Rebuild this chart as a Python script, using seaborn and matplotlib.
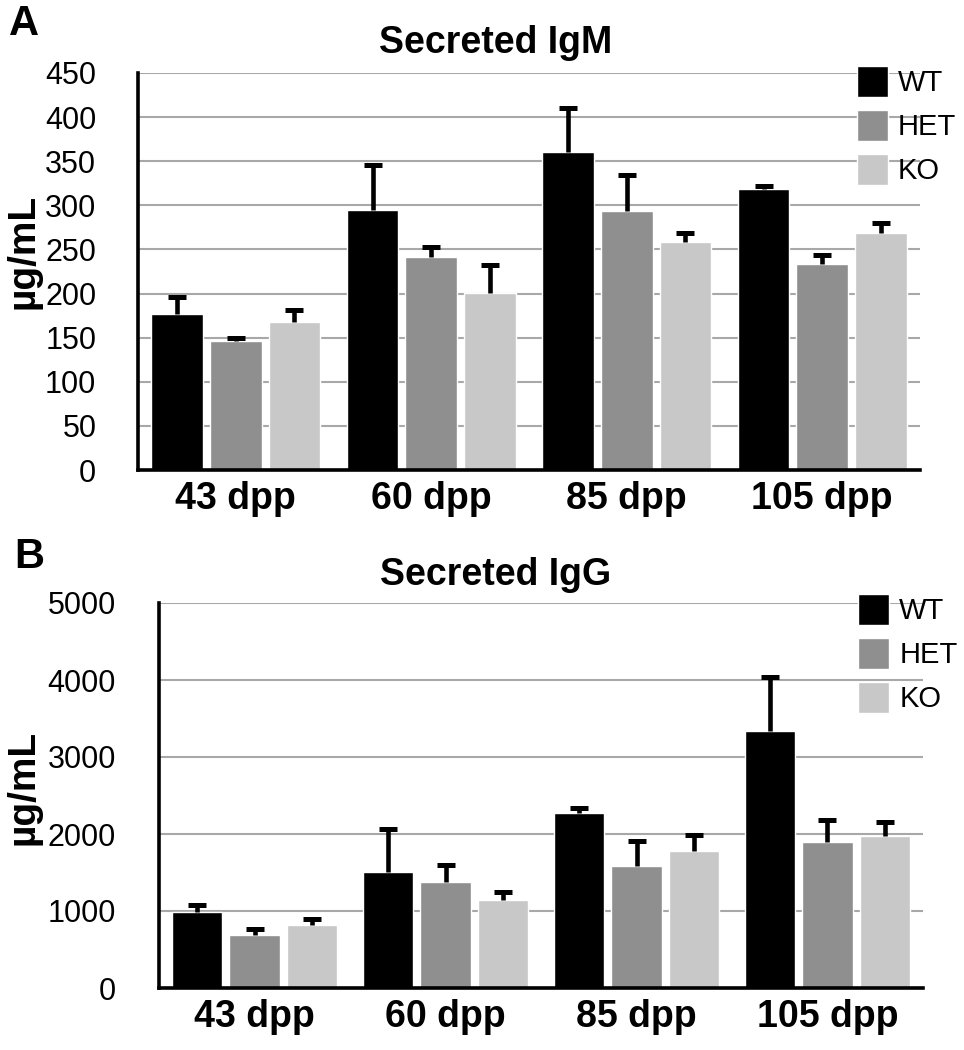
import pandas as pd
import matplotlib
matplotlib.use("Agg")
import matplotlib.pyplot as plt
import seaborn as sns

# Данные
ages = ["43 dpp", "60 dpp", "85 dpp", "105 dpp"]
groups = ["WT", "HET", "KO"]

igm_wt = [177, 295, 360, 319]
igm_het = [146, 241, 294, 233]
igm_ko = [168, 201, 258, 269]
igm_err_wt = [19, 51, 50, 3]
igm_err_het = [4, 12, 40, 11]
igm_err_ko = [13, 31, 11, 11]

igg_wt = [985, 1512, 2268, 3336]
igg_het = [691, 1382, 1590, 1897]
igg_ko = [820, 1145, 1784, 1979]
igg_err_wt = [95, 553, 70, 709]
igg_err_het = [70, 216, 315, 285]
igg_err_ko = [78, 108, 204, 173]

palette_groups = {"WT": "#000000", "HET": "#8f8f8f", "KO": "#c8c8c8"}

sns.set_theme(style="white", rc={"text.color": "black", "xtick.color": "black",
                                 "ytick.color": "black", "axes.labelcolor": "black"})
plt.rcParams['font.family'] = ['Liberation Sans', 'DejaVu Sans']


def make_df(wt, het, ko):
    rows = []
    for g, vals in zip(groups, [wt, het, ko]):
        for a, v in zip(ages, vals):
            rows.append({"Age": a, "Group": g, "Value": v})
    return pd.DataFrame(rows)


def draw_panel(ax, df, errs, ymax, ystep, tickpad, legend_xy):
    sns.barplot(data=df, x="Age", y="Value", hue="Group", palette=palette_groups,
                order=ages, hue_order=groups, width=0.9, gap=0.12,
                errorbar=None, saturation=1, ax=ax)
    # односторонние планки погрешностей (только вверх)
    for cont, err in zip(ax.containers, errs):
        xs = [b.get_x() + b.get_width() / 2 for b in cont]
        ys = [b.get_height() for b in cont]
        _, caps, _ = ax.errorbar(xs, ys, yerr=[[0] * len(err), err], fmt="none",
                                 ecolor="black", elinewidth=3.3, capsize=6.2,
                                 capthick=3.6, zorder=1)
        for c in caps:
            if list(c.get_ydata()) == ys:
                c.set_visible(False)
    ax.set_xlim(-0.5, 3.5)
    ax.set_ylim(0, ymax)
    ax.set_yticks(range(0, ymax + 1, ystep))
    ax.yaxis.grid(True, color="#a8a8a8", linewidth=1.5)
    ax.set_axisbelow(True)
    for s in ["top", "right"]:
        ax.spines[s].set_visible(False)
    for s in ["left", "bottom"]:
        ax.spines[s].set_linewidth(2.6)
        ax.spines[s].set_color("black")
        ax.spines[s].set_zorder(5)
    ax.tick_params(axis="y", length=0, pad=tickpad, labelsize=22, labelcolor="black")
    ax.tick_params(axis="x", length=0, pad=8, labelsize=27, labelcolor="black")
    for lab in ax.get_xticklabels():
        lab.set_fontweight("bold")
    ax.set_xlabel("")
    ax.set_ylabel("")
    handles = ax.get_legend().legend_handles
    ax.legend(handles, groups, loc="upper left", bbox_to_anchor=legend_xy,
              bbox_transform=fig.transFigure, frameon=False, fontsize=21,
              handlelength=1.06, handleheight=1.26, handletextpad=0.35,
              labelspacing=0.43, borderpad=0, borderaxespad=0)


fig = plt.figure(figsize=(9.64, 10.5), dpi=100)
W, H = 964, 1050

ax_a = fig.add_axes([138 / W, 1 - 470 / H, (920 - 138) / W, (470 - 73) / H])
draw_panel(ax_a, make_df(igm_wt, igm_het, igm_ko), [igm_err_wt, igm_err_het, igm_err_ko],
           450, 50, 30, (857 / W, 1 - 66 / H))

ax_b = fig.add_axes([159 / W, 1 - 988 / H, (923 - 159) / W, (988 - 603) / H])
draw_panel(ax_b, make_df(igg_wt, igg_het, igg_ko), [igg_err_wt, igg_err_het, igg_err_ko],
           5000, 1000, 31, (858 / W, 1 - 594 / H))

# Заголовки, подписи осей и буквы панелей
fig.text(496 / W, 1 - 53 / H, "Secreted IgM", ha="center", va="baseline",
         fontsize=27, fontweight="bold")
fig.text(496 / W, 1 - 585 / H, "Secreted IgG", ha="center", va="baseline",
         fontsize=27, fontweight="bold")
fig.text(23 / W, 1 - 251 / H, "µg/mL", ha="center", va="center", rotation=90,
         fontsize=28, fontweight="bold")
fig.text(23 / W, 1 - 787 / H, "µg/mL", ha="center", va="center", rotation=90,
         fontsize=28, fontweight="bold")
fig.text(9 / W, 1 - 35 / H, "A", ha="left", va="baseline", fontsize=30, fontweight="bold")
fig.text(14 / W, 1 - 568 / H, "B", ha="left", va="baseline", fontsize=30, fontweight="bold")

fig.savefig("out.png", dpi=100)
